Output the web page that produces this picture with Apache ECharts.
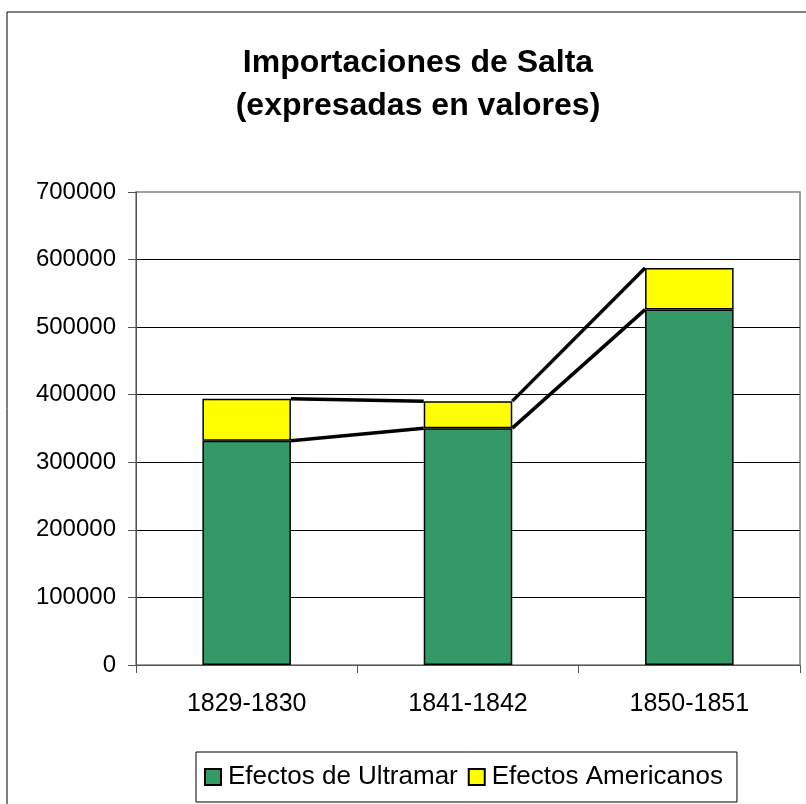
<!DOCTYPE html>
<html>
<head>
<meta charset="utf-8">
<script src="https://cdn.jsdelivr.net/npm/echarts@6/dist/echarts.min.js"></script>
<style>
  html, body { margin: 0; padding: 0; background: #fff; }
  #chart { width: 806px; height: 804px; }
</style>
</head>
<body>
<div id="chart"></div>
<script>
const periodos = ['1829-1830', '1841-1842', '1850-1851'];
const ultramar = [332000, 350500, 526000];
const americanos = [62000, 40000, 61500];
const yTicks = [0, 100000, 200000, 300000, 400000, 500000, 600000, 700000];

const totales = ultramar.map((v, i) => v + americanos[i]);
const font = 'Liberation Sans, Arial, sans-serif';
const barRatio = 0.4;

// líneas de serie entre barras (estilo Excel): borde derecho de una barra al izquierdo de la siguiente
const serieLineas = (tops) => tops.slice(0, -1).map((v, i) => [i, v, tops[i + 1]]);

const renderLinea = (params, api) => {
  const i = api.value(0);
  const p1 = api.coord([i, api.value(1)]);
  const p2 = api.coord([i + 1, api.value(2)]);
  const half = api.size([1, 0])[0] * barRatio / 2;
  return {
    type: 'line',
    shape: { x1: p1[0] + half, y1: p1[1], x2: p2[0] - half, y2: p2[1] },
    style: { stroke: '#000', lineWidth: 3.5 }
  };
};

const chart = echarts.init(document.getElementById('chart'));

chart.setOption({
  animation: false,
  textStyle: { fontFamily: font },
  graphic: [{
    type: 'rect',
    shape: { x: 7, y: 12, width: 820, height: 820 },
    style: { fill: 'none', stroke: '#000', lineWidth: 1 },
    silent: true
  }],
  title: {
    text: 'Importaciones de Salta\n(expresadas en valores)',
    left: 413,
    top: 37,
    textAlign: 'center',
    textStyle: {
      fontFamily: font,
      fontSize: 32,
      fontWeight: 'bold',
      color: '#000',
      lineHeight: 43
    }
  },
  legend: {
    data: ['Efectos de Ultramar', 'Efectos Americanos'],
    left: 196,
    top: 752,
    padding: [12, 14, 12, 8],
    borderColor: '#000',
    borderWidth: 1,
    itemWidth: 16,
    itemHeight: 16,
    itemGap: 10,
    icon: 'rect',
    textStyle: { fontFamily: font, fontSize: 26, color: '#000', padding: [0, 0, 0, 2] }
  },
  grid: {
    left: 136,
    right: 6,
    top: 192,
    bottom: 139,
    show: true,
    borderColor: '#808080',
    borderWidth: 1.5
  },
  xAxis: {
    type: 'category',
    data: periodos,
    axisLine: { lineStyle: { color: '#555', width: 1 } },
    axisTick: { show: true, length: 8, lineStyle: { color: '#555' } },
    axisLabel: { fontSize: 25, color: '#000', margin: 27, fontFamily: font }
  },
  yAxis: {
    type: 'value',
    min: yTicks[0],
    max: yTicks[yTicks.length - 1],
    interval: yTicks[1] - yTicks[0],
    axisLine: { show: true, lineStyle: { color: '#555', width: 1 } },
    axisTick: { show: true, length: 8, lineStyle: { color: '#555' } },
    axisLabel: { fontSize: 24, color: '#000', margin: 20, fontFamily: font, formatter: (v) => String(v) },
    splitLine: { showMaxLine: false, lineStyle: { color: '#000', width: 1 } }
  },
  series: [
    {
      name: 'Efectos de Ultramar',
      type: 'bar',
      stack: 'total',
      barWidth: (barRatio * 100) + '%',
      data: ultramar,
      itemStyle: { color: '#339966', borderColor: '#000', borderWidth: 1.5 }
    },
    {
      name: 'Efectos Americanos',
      type: 'bar',
      stack: 'total',
      barWidth: (barRatio * 100) + '%',
      data: americanos,
      itemStyle: { color: '#ffff00', borderColor: '#000', borderWidth: 1.5 }
    },
    {
      type: 'custom',
      renderItem: renderLinea,
      data: serieLineas(ultramar),
      z: 5,
      silent: true
    },
    {
      type: 'custom',
      renderItem: renderLinea,
      data: serieLineas(totales),
      z: 5,
      silent: true
    }
  ]
});
</script>
</body>
</html>
